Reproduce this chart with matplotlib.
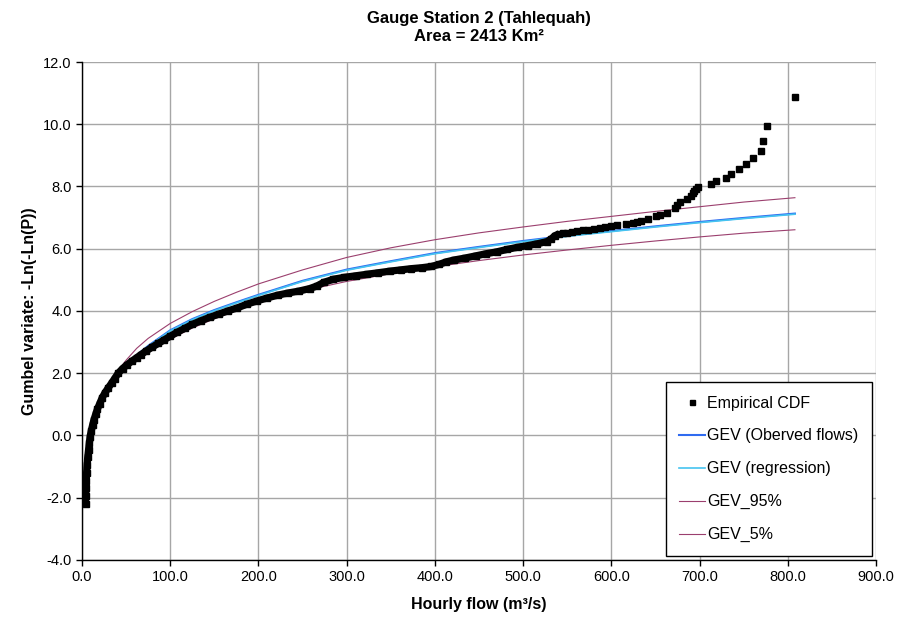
#!/usr/bin/env python3
"""gumbel plot of hourly flows for gauge station 2 (tahlequah)"""

import numpy as np
import matplotlib

matplotlib.use("Agg")
import matplotlib.pyplot as plt

#
# DATA
#
# empirical CDF, dense part (markers merge into a thick band)
emp_dense_x = [4.0, 4.2, 4.5, 4.8, 5.2, 5.8, 6.5, 7.4, 8.3, 9.2, 10.5, 12.0, 13.5, 15.5, 17.5, 20.0,
               23.0, 26.0, 29.5, 33.5, 37.0, 41.0, 46.0, 51.0, 56.5, 62.0, 67.0, 72.0, 79.0, 86.5,
               93.0, 100.0, 108.0, 117.0, 125.0, 135.0, 145.0, 155.0, 165.0, 176.0, 187.0, 198.0,
               210.0, 222.0, 234.0, 246.0, 258.0, 266.0, 274.0, 285.0, 297.0, 310.0, 323.0, 336.0,
               349.0, 361.0, 373.0, 385.0, 396.0, 405.0, 413.0, 422.0, 434.0, 446.0, 458.0, 470.0,
               482.0, 494.0, 505.0, 516.0, 527.0, 532.0, 536.0, 541.0]
emp_dense_y = [-2.20, -1.95, -1.70, -1.45, -1.20, -0.95, -0.70, -0.47, -0.25, -0.04, 0.15, 0.33,
               0.50, 0.68, 0.85, 1.02, 1.22, 1.37, 1.52, 1.68, 1.83, 2.00, 2.15, 2.27, 2.39, 2.50,
               2.60, 2.70, 2.83, 2.96, 3.07, 3.19, 3.32, 3.45, 3.57, 3.69, 3.80, 3.90, 4.00, 4.10,
               4.22, 4.32, 4.42, 4.51, 4.58, 4.64, 4.72, 4.80, 4.92, 5.02, 5.08, 5.13, 5.18, 5.23,
               5.28, 5.32, 5.36, 5.39, 5.43, 5.50, 5.58, 5.64, 5.70, 5.77, 5.84, 5.90, 5.98, 6.05,
               6.10, 6.16, 6.23, 6.32, 6.42, 6.48]

# empirical CDF, upper tail (single markers)
emp_tail_x = [545, 550, 555, 561, 568, 574, 580, 587, 593, 600, 606, 617, 624, 629, 634, 642, 650,
              655, 663, 672, 674, 678, 686, 690, 692, 694, 696, 698, 713, 719, 730, 735, 745, 752,
              761, 769, 772, 776, 808]
emp_tail_y = [6.50, 6.52, 6.55, 6.57, 6.60, 6.61, 6.63, 6.66, 6.69, 6.73, 6.77, 6.81, 6.84, 6.86,
              6.89, 6.95, 7.05, 7.10, 7.16, 7.30, 7.41, 7.51, 7.59, 7.70, 7.78, 7.87, 7.93, 7.99,
              8.08, 8.18, 8.28, 8.40, 8.55, 8.71, 8.91, 9.14, 9.46, 9.94, 10.87]

# fitted GEV curves
gev_x = [4, 6, 10, 15, 20, 30, 40, 50, 62, 75, 100, 125, 150, 175, 200, 250, 300, 350, 400,
         450, 500, 550, 600, 650, 700, 750, 808]
gev_obs_y = [-2.20, -1.20, -0.05, 0.62, 1.02, 1.55, 1.95, 2.27, 2.58, 2.88, 3.38, 3.74, 4.03,
             4.28, 4.52, 4.97, 5.33, 5.60, 5.86, 6.06, 6.25, 6.42, 6.57, 6.72, 6.86, 6.99, 7.13]
gev_reg_y = [-2.22, -1.22, -0.07, 0.60, 1.00, 1.53, 1.93, 2.25, 2.56, 2.86, 3.36, 3.72, 4.01,
             4.26, 4.50, 4.95, 5.31, 5.58, 5.84, 6.04, 6.23, 6.40, 6.55, 6.70, 6.84, 6.97, 7.11]
gev_95_y = [-2.20, -1.15, 0.00, 0.70, 1.10, 1.60, 2.05, 2.42, 2.80, 3.12, 3.60, 3.98, 4.31,
            4.60, 4.87, 5.32, 5.72, 6.03, 6.29, 6.51, 6.70, 6.88, 7.04, 7.20, 7.35, 7.50, 7.64]
gev_05_y = [-2.25, -1.25, -0.10, 0.55, 0.95, 1.45, 1.85, 2.15, 2.42, 2.66, 3.10, 3.45, 3.75,
            4.01, 4.26, 4.64, 4.95, 5.20, 5.42, 5.62, 5.80, 5.96, 6.11, 6.25, 6.38, 6.50, 6.61]

x_ticks = np.arange(0, 901, 100)
y_ticks = np.arange(-4, 13, 2)

#
# PLOT
#
plt.rcParams["font.family"] = ["Liberation Sans", "DejaVu Sans"]

fig = plt.figure(figsize=(9.03, 6.2), dpi=100)
ax = fig.add_axes([0.0908, 0.0968, 0.8794, 0.8032])

plum = "#9B3F6E"
ax.plot(gev_x, gev_obs_y, color="#2F6BF0", linewidth=1.5, label="GEV (Oberved flows)", zorder=3)
ax.plot(gev_x, gev_reg_y, color="#45C4F0", linewidth=1.2, label="GEV (regression)", zorder=3)
ax.plot(gev_x, gev_95_y, color=plum, linewidth=0.8, label="GEV_95%", zorder=3)
ax.plot(gev_x, gev_05_y, color=plum, linewidth=0.8, label="GEV_5%", zorder=3)

# dense part: markers overlap in the original, drawn as a thick band
ax.plot(emp_dense_x, emp_dense_y, color="black", linewidth=5.2, solid_capstyle="butt",
        solid_joinstyle="round", zorder=4)
ax.plot(emp_dense_x, emp_dense_y, "s", color="black", markersize=4.2, zorder=4)
ax.plot(emp_tail_x, emp_tail_y, "s", color="black", markersize=3.8, zorder=4)
# legend handle for empirical points
ax.plot([], [], "s", color="black", markersize=3.6, label="Empirical CDF")

ax.set_xlim(0, 900)
ax.set_ylim(-4, 12)
ax.set_xticks(x_ticks)
ax.set_yticks(y_ticks)
ax.set_xticklabels(["{:.1f}".format(v) for v in x_ticks])
ax.set_yticklabels(["{:.1f}".format(v) for v in y_ticks])
ax.tick_params(axis="both", labelsize=10.5, direction="out", length=4, width=1, color="black")

ax.grid(True, color="#A6A6A6", linewidth=1.0)
ax.set_axisbelow(True)
for side in ["top", "right"]:
    ax.spines[side].set_visible(False)
for side in ["left", "bottom"]:
    ax.spines[side].set_color("black")
    ax.spines[side].set_linewidth(1.0)

ax.set_xlabel("Hourly flow (m³/s)", fontsize=11.5, fontweight="bold", labelpad=9)
ax.set_ylabel("Gumbel variate: -Ln(-Ln(P))", fontsize=11.5, fontweight="bold", labelpad=4)
ax.set_title("Gauge Station 2 (Tahlequah)\nArea = 2413 Km²", fontsize=12, fontweight="bold",
             pad=15, linespacing=1.3)

# legend in the order of the reference
handles, labels = ax.get_legend_handles_labels()
order = [labels.index(n) for n in ["Empirical CDF", "GEV (Oberved flows)", "GEV (regression)",
                                   "GEV_95%", "GEV_5%"]]
leg = ax.legend(
    [handles[i] for i in order],
    [labels[i] for i in order],
    loc="lower right",
    bbox_to_anchor=(0.995, 0.008),
    fontsize=11.5,
    frameon=True,
    fancybox=False,
    edgecolor="black",
    framealpha=1,
    labelspacing=1.12,
    handlelength=1.6,
    handletextpad=0.15,
    borderpad=0.85,
    borderaxespad=0,
)
leg.get_frame().set_linewidth(1.0)

fig.savefig("out.png", dpi=100)
